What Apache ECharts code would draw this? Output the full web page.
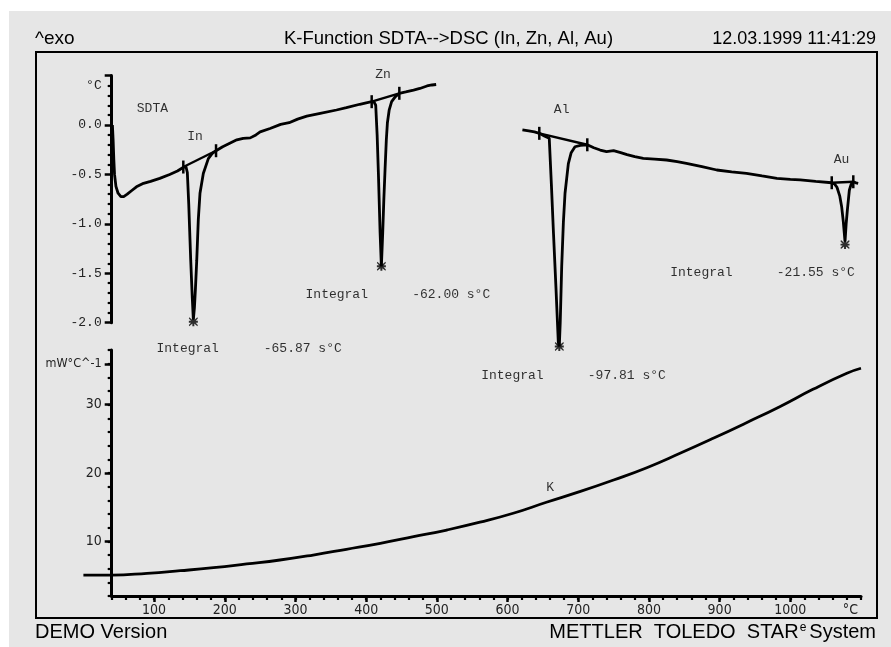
<!DOCTYPE html>
<html><head><meta charset="utf-8">
<script src="https://cdn.jsdelivr.net/npm/echarts@6/dist/echarts.min.js"></script>
<style>html,body{margin:0;padding:0;background:#fff}#c{width:891px;height:647px}</style>
</head><body><div id="c"></div>
<script>
// ---- data ----
const xTickLabels = [100,200,300,400,500,600,700,800,900,1000];
const sdtaTickLabels = [-2.0,-1.5,-1.0,-0.5,0.0];
const kTickLabels = [10,20,30];

// SDTA signal (°C vs temperature °C), first run In/Zn
const sdtaSeg1 = [
 [41,0.0],[42,-0.15],[43,-0.35],[44,-0.5],[46,-0.62],[49,-0.69],[53,-0.725],[57,-0.725],[62,-0.70],[68,-0.665],
 [75,-0.625],[85,-0.59],[95,-0.57],[108,-0.54],[122,-0.50],[133,-0.465],[141,-0.43],[145,-0.42],
 [147,-0.48],[149,-0.8],[151.8,-1.37],[154,-1.75],[155.5,-1.97],[157,-1.85],[158.5,-1.65],[160.3,-1.37],
 [162.5,-0.96],[164.9,-0.69],[169.6,-0.49],[176.7,-0.34],[182,-0.29],[187.6,-0.26],
 [197,-0.22],[207,-0.185],[217,-0.15],[226,-0.135],[236,-0.13],[244,-0.1],[250,-0.07],[264,-0.035],
 [279,0.007],[291,0.023],[303,0.06],[316,0.09],[335,0.118],[358,0.152],[372,0.175],[391,0.21],[400,0.225],[407.8,0.236],
 [411,0.235],[413.5,0.2],[415.5,-0.1],[417.3,-0.49],[419.7,-1.09],[421.5,-1.43],[423.4,-1.09],[425,-0.75],
 [426.7,-0.45],[428.5,-0.15],[430,0.02],[432.5,0.15],[436,0.236],[441,0.285],[447,0.321],
 [456,0.335],[467,0.354],[476,0.37],[486,0.395],[493,0.405],[499,0.41]
];
// second run Al/Au
const sdtaSeg2 = [
 [621,-0.05],[630,-0.06],[638,-0.07],[645,-0.084],[652,-0.11],[659,-0.135],[662,-0.6],[665,-1.1],[668.5,-1.65],
 [671.8,-2.2],[673.2,-2.24],[674.5,-2.0],[676.6,-1.43],[679,-0.98],[681.3,-0.69],[686,-0.39],[690,-0.28],
 [695.4,-0.22],[703,-0.205],[712.8,-0.20],
 [722,-0.23],[731,-0.253],[740,-0.27],[750,-0.26],[760,-0.28],[769,-0.30],[780,-0.32],[792,-0.337],[808,-0.345],
 [825,-0.354],[840,-0.37],[853,-0.387],[875,-0.42],[896,-0.455],[917,-0.475],[938,-0.489],[960,-0.515],
 [981,-0.539],[1000,-0.55],[1014,-0.556],[1036,-0.57],[1058.6,-0.584],
 [1063,-0.6],[1066,-0.63],[1070,-0.72],[1072.7,-0.83],[1075,-0.98],[1077.4,-1.18],[1079,-1.0],[1080.7,-0.86],
 [1083.5,-0.66],[1086,-0.6],[1089,-0.574],[1093,-0.585],[1096,-0.59]
];
// integration baselines
const baseIn = [[141.3,-0.425],[187.6,-0.26]];
const baseZn = [[407.8,0.236],[446.9,0.321]];
const baseAl = [[644.9,-0.084],[712.8,-0.20]];
const baseAu = [[1058.6,-0.584],[1089.1,-0.574]];
// peak minima
const peakPoints = [[155.5,-1.99],[421.5,-1.43],[673.2,-2.24],[1077.4,-1.21]];

// K function (mW/°C) vs temperature
const kTemp = [0,40,90,137,184,231,278,325,372,420,467,514,561,608,655,702,750,797,844,891,938,985,1032,1080,1100];
const kVals = [5.07,5.07,5.32,5.70,6.14,6.69,7.27,8.00,8.84,9.72,10.68,11.66,12.8,14.11,15.72,17.27,18.98,20.78,22.89,25.09,27.37,29.72,32.26,34.61,35.34];

// text annotations [text, x(°C), y]
const sdtaLabels = [['SDTA',76.2,0.165],['In',147.5,-0.118],['Zn',413.5,0.506],['Al',666.2,0.152],['Au',1062.2,-0.354]];
const integralLabels = [
 ['Integral',104.1,-2.266],['-65.87 s°C',255.8,-2.266],
 ['Integral',314.9,-1.72],['-62.00 s°C',465.8,-1.72],
 ['Integral',563.4,-2.539],['-97.81 s°C',714.2,-2.539],
 ['Integral',830.8,-1.50],['-21.55 s°C',981.6,-1.50]
];
const kLabels = [['K',655.4,17.77]];

// ---- chart ----
const MONO = 'Liberation Mono, Courier New, monospace';
const SANS = 'Liberation Sans, Arial, sans-serif';
const NARROW = 'Liberation Sans Narrow, DejaVu Sans Condensed, sans-serif';
const INK = '#000';
const star = 'path://M0.5,0L5,3.8L9.5,0L10,1.4L6.6,5L10,8.6L9.5,10L5,6.2L0.5,10L0,8.6L3.4,5L0,1.4Z M3.9,0L6.1,0L6.1,10L3.9,10Z M0,3.9L10,3.9L10,6.1L0,6.1Z';

const lineBase = {type:'line', showSymbol:false, clip:false, silent:true, animation:false,
  lineStyle:{color:'#000', width:2.8}, itemStyle:{color:'#000'}};

function textSeries(list, xi, yi, fontFamily){
  return {type:'scatter', xAxisIndex:xi, yAxisIndex:yi, clip:false, silent:true, animation:false,
    symbolSize:1, itemStyle:{color:'rgba(0,0,0,0)'},
    data:list.map(d=>({name:d[0], value:[d[1],d[2]]})),
    label:{show:true, position:[0,0], align:'left', verticalAlign:'middle', formatter:'{b}',
      fontFamily:fontFamily, fontSize:13, color:INK}};
}
function baseline(data){
  return Object.assign({}, lineBase, {data:data, showSymbol:true, symbol:'rect', symbolSize:[2.5,13],
    lineStyle:{color:'#000', width:2.4}, xAxisIndex:0, yAxisIndex:0});
}

const axisLineStyle = {lineStyle:{color:'#000', width:3}};
const option = {
  backgroundColor:'#fff',
  animation:false,
  graphic:[
    {type:'rect', z:-10, shape:{x:9,y:11,width:882,height:636}, style:{fill:'#e6e6e6'}, silent:true},
    {type:'rect', z:-5, shape:{x:36,y:52,width:841,height:566}, style:{fill:null, stroke:'#000', lineWidth:2}, silent:true},
    {type:'text', style:{x:35, y:39, text:'^exo', font:'19px '+SANS, fill:'#000', verticalAlign:'middle', align:'left'}},
    {type:'text', style:{x:448.5, y:39, text:'K-Function SDTA-->DSC (In, Zn, Al, Au)', font:'18.5px '+SANS, fill:'#000', verticalAlign:'middle', align:'center'}},
    {type:'text', style:{x:876, y:39, text:'12.03.1999 11:41:29', font:'18px '+SANS, fill:'#000', verticalAlign:'middle', align:'right'}},
    {type:'text', style:{x:35, y:632, text:'DEMO Version', font:'20px '+SANS, fill:'#000', verticalAlign:'middle', align:'left'}},
    {type:'text', style:{x:876, y:632, text:'{a|METTLER  TOLEDO  STAR}{s|e}{a|System}',
      fill:'#000', verticalAlign:'middle', align:'right',
      rich:{a:{fontSize:20, fontFamily:SANS, color:'#000'}, s:{fontSize:12, fontFamily:SANS, color:'#000', verticalAlign:'top', padding:[0,3,0,1]}}}}
  ],
  grid:[
    {left:111.7, right:30, top:75.6, bottom:647-322.7},
    {left:111.7, right:30, top:350.1, bottom:51},
    {left:83.4, right:30, top:350.1, bottom:51}
  ],
  xAxis:[
    {gridIndex:0, type:'value', min:40, max:1100, show:false},
    {gridIndex:1, type:'value', min:40, max:1100, interval:20, position:'bottom',
      axisLine:axisLineStyle, axisTick:{length:4, lineStyle:{color:'#000', width:2.2}},
      axisLabel:{show:false}, splitLine:{show:false}},
    {gridIndex:1, type:'value', min:40, max:1100, position:'bottom',
      axisLine:{show:false}, axisTick:{show:true, customValues:xTickLabels, length:6, lineStyle:{color:'#000', width:2.5}},
      axisLabel:{show:true, customValues:xTickLabels.concat([1085]), margin:7,
        formatter:v=>v===1085?'°C':String(v), fontFamily:NARROW, fontSize:14, color:'#222'},
      splitLine:{show:false}},
    {gridIndex:2, type:'value', min:0, max:1100, show:false}
  ],
  yAxis:[
    {gridIndex:0, type:'value', min:-2, max:0.5, interval:0.5, position:'left',
      axisLine:axisLineStyle, axisTick:{length:7, lineStyle:{color:'#000', width:2.5}},
      minorTick:{show:true, splitNumber:5, length:4, lineStyle:{color:'#000', width:2.2}},
      axisLabel:{customValues:sdtaTickLabels.concat([0.4]), margin:10,
        formatter:v=>Math.abs(v-0.4)<1e-6?'°C':v.toFixed(1), fontFamily:MONO, fontSize:13, color:'#222'},
      splitLine:{show:false}},
    {gridIndex:1, type:'value', min:2, max:38, interval:2, position:'left',
      axisLine:axisLineStyle, axisTick:{length:4, lineStyle:{color:'#000', width:2.2}},
      axisLabel:{show:false}, splitLine:{show:false}},
    {gridIndex:1, type:'value', min:2, max:38, position:'left',
      axisLine:{show:false}, axisTick:{show:true, customValues:kTickLabels.concat([36]), length:7, lineStyle:{color:'#000', width:2.5}},
      axisLabel:{customValues:kTickLabels.concat([36]), margin:10,
        formatter:v=>v===36?'{u|mW°C^-1}':String(v), fontFamily:NARROW, fontSize:14, color:'#222',
        rich:{u:{fontFamily:NARROW, fontSize:12.5, color:'#222'}}},
      splitLine:{show:false}},
    {gridIndex:2, type:'value', min:2, max:38, show:false}
  ],
  series:[
    Object.assign({}, lineBase, {xAxisIndex:0, yAxisIndex:0, data:sdtaSeg1}),
    Object.assign({}, lineBase, {xAxisIndex:0, yAxisIndex:0, data:sdtaSeg2}),
    baseline(baseIn), baseline(baseZn), baseline(baseAl), baseline(baseAu),
    {type:'scatter', xAxisIndex:0, yAxisIndex:0, clip:false, silent:true, animation:false,
      symbol:star, symbolSize:9, itemStyle:{color:'#000'}, data:peakPoints},
    Object.assign({}, lineBase, {xAxisIndex:3, yAxisIndex:3, smooth:true, data:kTemp.map((t,i)=>[t,kVals[i]])}),
    textSeries(sdtaLabels, 0, 0, MONO),
    textSeries(integralLabels, 0, 0, MONO),
    textSeries(kLabels, 1, 1, MONO)
  ]
};
const chart = echarts.init(document.getElementById('c'), null, {renderer:'canvas'});
chart.setOption(option);
</script></body></html>
